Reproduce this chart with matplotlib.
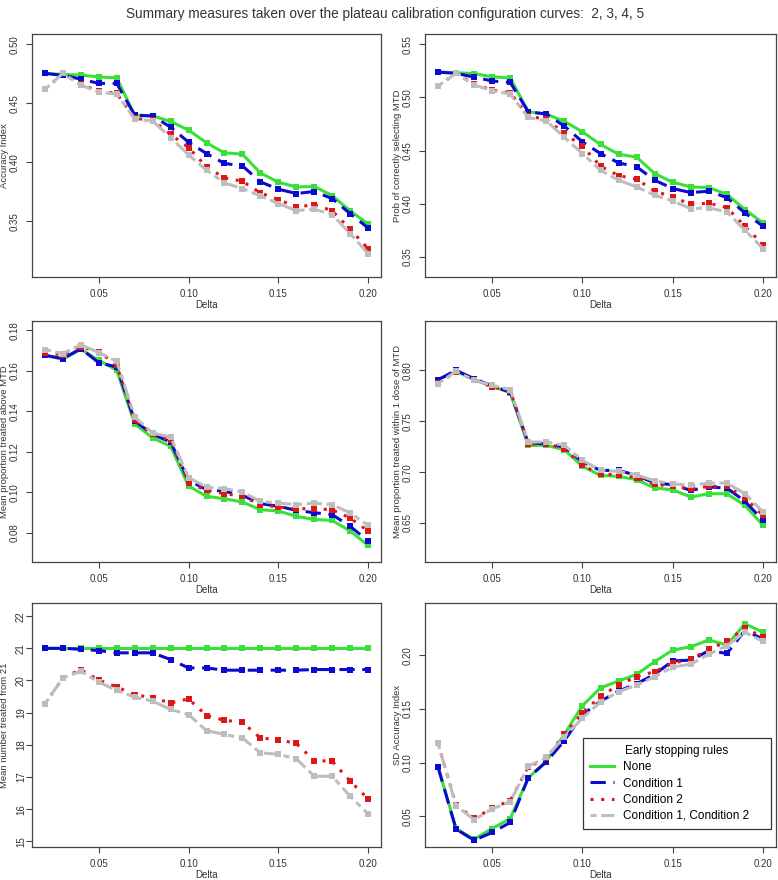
import matplotlib
matplotlib.use("Agg")
import matplotlib.pyplot as plt

plt.rcParams['font.family'] = ['Liberation Sans', 'DejaVu Sans']

delta = [0.02, 0.03, 0.04, 0.05, 0.06, 0.07, 0.08, 0.09, 0.10, 0.11,
         0.12, 0.13, 0.14, 0.15, 0.16, 0.17, 0.18, 0.19, 0.20]

rules = ["None", "Condition 1", "Condition 2", "Condition 1, Condition 2"]

# accuracy index
acc_none = [0.4754, 0.4745, 0.4740, 0.4723, 0.4717, 0.4400, 0.4394, 0.4346, 0.4273, 0.4165,
            0.4080, 0.4069, 0.3910, 0.3831, 0.3791, 0.3794, 0.3718, 0.3588, 0.3477]
acc_c1 = [0.4754, 0.4737, 0.4706, 0.4669, 0.4669, 0.4400, 0.4392, 0.4298, 0.4171, 0.4074,
          0.3990, 0.3970, 0.3834, 0.3772, 0.3735, 0.3752, 0.3692, 0.3565, 0.3443]
acc_c2 = [0.4618, 0.4754, 0.4660, 0.4604, 0.4584, 0.4372, 0.4358, 0.4236, 0.4125, 0.3961,
          0.3868, 0.3839, 0.3740, 0.3684, 0.3622, 0.3639, 0.3590, 0.3432, 0.3268]
acc_c12 = [0.4618, 0.4754, 0.4655, 0.4595, 0.4578, 0.4369, 0.4349, 0.4210, 0.4063, 0.3933,
           0.3825, 0.3777, 0.3715, 0.3650, 0.3590, 0.3602, 0.3557, 0.3395, 0.3225]

# prob of correctly selecting MTD
pcs_none = [0.5239, 0.5233, 0.5224, 0.5195, 0.5183, 0.4866, 0.4844, 0.4775, 0.4677, 0.4558,
            0.4467, 0.4439, 0.4285, 0.4203, 0.4159, 0.4153, 0.4090, 0.3946, 0.3820]
pcs_c1 = [0.5239, 0.5227, 0.5192, 0.5155, 0.5142, 0.4866, 0.4844, 0.4731, 0.4583, 0.4473,
          0.4385, 0.4348, 0.4222, 0.4144, 0.4106, 0.4119, 0.4059, 0.3914, 0.3789]
pcs_c2 = [0.5108, 0.5227, 0.5126, 0.5070, 0.5045, 0.4825, 0.4794, 0.4662, 0.4542, 0.4354,
          0.4266, 0.4232, 0.4119, 0.4065, 0.3996, 0.4006, 0.3965, 0.3789, 0.3616]
pcs_c12 = [0.5108, 0.5227, 0.5117, 0.5064, 0.5032, 0.4812, 0.4781, 0.4624, 0.4473, 0.4316,
           0.4222, 0.4159, 0.4081, 0.4027, 0.3955, 0.3962, 0.3924, 0.3751, 0.3579]

# mean proportion treated above MTD
above_none = [0.1677, 0.1657, 0.1706, 0.1652, 0.1603, 0.1339, 0.1269, 0.1228, 0.1032, 0.0981,
              0.0969, 0.0953, 0.0915, 0.0909, 0.0882, 0.0867, 0.0862, 0.0810, 0.0739]
above_c1 = [0.1677, 0.1660, 0.1710, 0.1640, 0.1619, 0.1353, 0.1287, 0.1249, 0.1060, 0.1014,
            0.1006, 0.0986, 0.0945, 0.0932, 0.0912, 0.0900, 0.0891, 0.0833, 0.0761]
above_c2 = [0.1688, 0.1680, 0.1718, 0.1695, 0.1627, 0.1356, 0.1287, 0.1257, 0.1047, 0.1011,
            0.0994, 0.0981, 0.0940, 0.0928, 0.0920, 0.0920, 0.0915, 0.0874, 0.0810]
above_c12 = [0.1705, 0.1685, 0.1729, 0.1690, 0.1647, 0.1372, 0.1293, 0.1274, 0.1073, 0.1027,
             0.1019, 0.1002, 0.0956, 0.0948, 0.0940, 0.0948, 0.0940, 0.0899, 0.0838]

# mean proportion treated within 1 dose of MTD
within_none = [0.7908, 0.7990, 0.7908, 0.7843, 0.7781, 0.7263, 0.7263, 0.7220, 0.7057, 0.6968,
               0.6958, 0.6926, 0.6844, 0.6827, 0.6755, 0.6788, 0.6788, 0.6673, 0.6477]
within_c1 = [0.7908, 0.8000, 0.7918, 0.7846, 0.7787, 0.7286, 0.7279, 0.7247, 0.7100, 0.7017,
             0.7017, 0.6968, 0.6893, 0.6877, 0.6821, 0.6854, 0.6844, 0.6713, 0.6526]
within_c2 = [0.7876, 0.7984, 0.7908, 0.7836, 0.7797, 0.7273, 0.7279, 0.7230, 0.7067, 0.6978,
             0.6975, 0.6945, 0.6880, 0.6860, 0.6837, 0.6860, 0.6860, 0.6749, 0.6575]
within_c12 = [0.7869, 0.7990, 0.7902, 0.7853, 0.7810, 0.7296, 0.7296, 0.7263, 0.7116, 0.7017,
              0.7008, 0.6975, 0.6913, 0.6886, 0.6870, 0.6893, 0.6893, 0.6788, 0.6608]

# mean number treated from 21
num_none = [21.0] * 19
num_c1 = [21.00, 21.00, 20.97, 20.93, 20.86, 20.86, 20.86, 20.65, 20.39, 20.39,
          20.32, 20.32, 20.32, 20.32, 20.32, 20.34, 20.34, 20.34, 20.34]
num_c2 = [19.27, 20.08, 20.34, 20.01, 19.80, 19.56, 19.46, 19.30, 19.43, 18.91,
          18.76, 18.70, 18.21, 18.16, 18.04, 17.51, 17.49, 16.87, 16.32]
num_c12 = [19.27, 20.08, 20.29, 19.95, 19.69, 19.48, 19.36, 19.10, 18.94, 18.44,
           18.32, 18.21, 17.75, 17.70, 17.57, 17.02, 17.02, 16.40, 15.85]

# SD accuracy index
sd_none = [0.0960, 0.0387, 0.0287, 0.0387, 0.0480, 0.0857, 0.1013, 0.1264, 0.1530, 0.1696,
           0.1759, 0.1821, 0.1940, 0.2047, 0.2078, 0.2141, 0.2094, 0.2291, 0.2213]
sd_c1 = [0.0960, 0.0381, 0.0278, 0.0350, 0.0443, 0.0860, 0.1007, 0.1205, 0.1446, 0.1571,
         0.1665, 0.1734, 0.1821, 0.1947, 0.1953, 0.2041, 0.2016, 0.2229, 0.2150]
sd_c2 = [0.1180, 0.0606, 0.0481, 0.0575, 0.0647, 0.0960, 0.1039, 0.1267, 0.1461, 0.1618,
         0.1721, 0.1800, 0.1847, 0.1925, 0.1962, 0.2053, 0.2128, 0.2254, 0.2166]
sd_c12 = [0.1180, 0.0600, 0.0469, 0.0569, 0.0638, 0.0967, 0.1048, 0.1242, 0.1414, 0.1565,
          0.1659, 0.1721, 0.1800, 0.1890, 0.1915, 0.2009, 0.2088, 0.2213, 0.2128]

colors = ['#3ae03a', '#0a0ad0', '#e01515', '#bdbdbd']
dashes = [None, (5, 2.5), (1, 2.5), (2, 1.5, 5, 1.5)]

panels = [
    ("Accuracy Index", [acc_none, acc_c1, acc_c2, acc_c12],
     (0.3027, 0.5088), [0.35, 0.40, 0.45, 0.50], "%.2f"),
    ("Prob of correctly selecting MTD", [pcs_none, pcs_c1, pcs_c2, pcs_c12],
     (0.3312, 0.5597), [0.35, 0.40, 0.45, 0.50, 0.55], "%.2f"),
    ("Mean proportion treated above MTD", [above_none, above_c1, above_c2, above_c12],
     (0.0657, 0.1846), [0.08, 0.10, 0.12, 0.14, 0.16, 0.18], "%.2f"),
    ("Mean proportion treated within 1 dose of MTD", [within_none, within_c1, within_c2, within_c12],
     (0.6117, 0.8485), [0.65, 0.70, 0.75, 0.80], "%.2f"),
    ("Mean number treated from 21", [num_none, num_c1, num_c2, num_c12],
     (14.82, 22.41), [15, 16, 17, 18, 19, 20, 21, 22], "%d"),
    ("SD Accuracy Index", [sd_none, sd_c1, sd_c2, sd_c12],
     (0.0215, 0.2485), [0.05, 0.10, 0.15, 0.20], "%.2f"),
]

W, H = 778, 880
fig = plt.figure(figsize=(W / 100, H / 100), dpi=100)

cols = [(32, 381), (425, 776)]
rows = [(34, 277), (321, 562), (603, 847)]

for k, (ylab, series, ylim, yticks, fmt) in enumerate(panels):
    r, c = divmod(k, 2)
    x0, x1 = cols[c]
    t, b = rows[r]
    ax = fig.add_axes([x0 / W, 1 - b / H, (x1 - x0) / W, (b - t) / H])
    for s, col, d in zip(series, colors, dashes):
        line, = ax.plot(delta, s, color=col, lw=2.2, marker='s', markersize=4,
                        markeredgewidth=0)
        if d is not None:
            line.set_dashes(d)
    ax.set_xlim(0.0128, 0.2072)
    ax.set_ylim(*ylim)
    ax.set_xticks([0.05, 0.10, 0.15, 0.20])
    ax.set_xticklabels(["0.05", "0.10", "0.15", "0.20"])
    ax.set_yticks(yticks)
    ax.set_yticklabels([fmt % v for v in yticks], rotation=90, va='center')
    ax.tick_params(length=4.3, width=0.8, color='#444444', labelsize=7,
                   labelcolor='#333333')
    ax.tick_params(axis='x', pad=4.5)
    # the bottom-left panel has its y labels set closer to the axis
    ax.tick_params(axis='y', pad=0 if k == 4 else 4.5)
    for sp in ax.spines.values():
        sp.set_color('#444444')
        sp.set_linewidth(0.9)
    ax.set_xlabel("Delta", fontsize=7, color='#333333')
    ax.xaxis.set_label_coords(0.5, -0.095)
    ax.set_ylabel(ylab, fontsize=6.8, color='#333333')
    ax.yaxis.set_label_coords(-0.066, 0.5)

    if k == 5:
        leg = ax.legend(rules, title="Early stopping rules", loc='lower left',
                        bbox_to_anchor=(0.450, 0.074, 0.536, 0.36), mode='expand',
                        borderaxespad=0, fontsize=8.5, title_fontsize=8.5,
                        fancybox=False, framealpha=1, edgecolor='#333333',
                        handlelength=2.0, handletextpad=0.8,
                        labelspacing=0.35, borderpad=0.6)
        leg.get_frame().set_linewidth(0.9)
        for h in leg.get_lines():
            h.set_marker('')

fig.text(0.495, 1 - 14 / H,
         "Summary measures taken over the plateau calibration configuration curves:  2, 3, 4, 5",
         ha='center', va='center', fontsize=9.8, color='#333333')

fig.savefig("out.png", dpi=100)
